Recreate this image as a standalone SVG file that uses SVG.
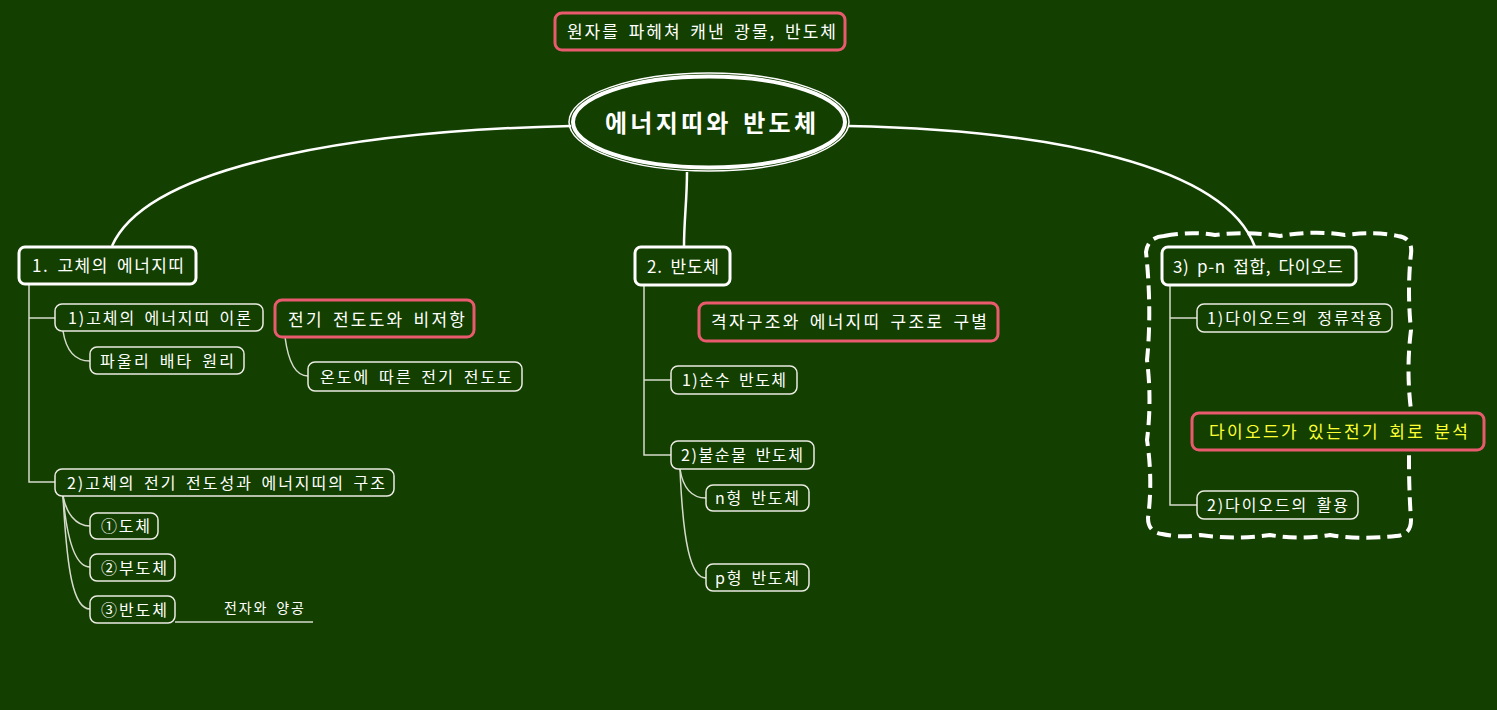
<svg xmlns="http://www.w3.org/2000/svg" width="1497" height="710" viewBox="0 0 1497 710">
<style>
text{font-family:"Noto Sans CJK KR","Malgun Gothic","Noto Sans",sans-serif;fill:#ffffff;word-spacing:3px;}
.t15{font-size:16px;}
.t17{font-size:17px;}
.main{fill:#133f00;stroke:#ffffff;stroke-width:3;}
.sub{fill:#133f00;stroke:#ecece4;stroke-width:1.5;}
.pink{fill:#133f00;stroke:#ea5a6e;stroke-width:3;}
.conn{fill:none;stroke:#d6dccc;stroke-width:1.5;}
.big{fill:none;stroke:#ffffff;stroke-width:2.5;}
</style>
<rect width="1497" height="710" fill="#133f00"/>
<g id="connectors">
<path class="big" d="M571,126 C380,130 150,160 112,246"/>
<path class="big" d="M848,126 C1050,130 1225,165 1255,247"/>
<path class="big" d="M687,172 C687,200 684,220 684,247"/>
<path class="conn" d="M29,284 V482 H55 M29,318 H55"/>
<path class="conn" d="M63,331 C66,350 75,361 90,361"/>
<path class="conn" d="M285,337 C288,360 295,376 308,376"/>
<path class="conn" d="M63,496 C66,512 75,526 90,526"/>
<path class="conn" d="M63,496 C67,540 75,567 90,567"/>
<path class="conn" d="M63,496 C67,570 73,609 90,609"/>
<path class="conn" d="M175,622 H313"/>
<path class="conn" d="M644,286 V455 H671 M644,380 H671"/>
<path class="conn" d="M680,469 C683,488 692,498 706,498"/>
<path class="conn" d="M680,469 C683,540 690,578 706,578"/>
<path class="conn" d="M1170,286 V505 H1197 M1170,318 H1197"/>
</g>
<g id="boundary">
<path d="M1164,236 Q1190,231 1215,235 Q1245,231 1280,236 Q1315,230 1345,235 Q1375,231 1398,236 Q1413,238 1411,254 Q1407,290 1411,330 Q1406,370 1411,410 Q1407,460 1411,520 Q1411,535 1396,536 Q1360,540 1330,535 Q1300,540 1270,535 Q1235,540 1200,535 Q1180,538 1162,534 Q1148,532 1148,518 Q1153,480 1147,440 Q1152,400 1147,360 Q1152,310 1146,252 Q1148,237 1164,236 Z" fill="none" stroke="#ffffff" stroke-width="4" stroke-dasharray="14 7"/>
</g>
<g id="title">
<rect class="pink" x="555" y="13" width="290" height="37" rx="7"/>
<text class="t17" x="567" y="38" textLength="269" lengthAdjust="spacing">원자를 파헤쳐 캐낸 광물, 반도체</text>
</g>
<g id="central">
<ellipse cx="709" cy="122" rx="140" ry="49" fill="none" stroke="#ffffff" stroke-width="1.5"/>
<ellipse cx="709" cy="122" rx="136" ry="45.5" fill="#133f00" stroke="#ffffff" stroke-width="4"/>
<text x="605" y="132" font-size="24" font-weight="bold" textLength="211" lengthAdjust="spacing">에너지띠와 반도체</text>
</g>
<g id="n1">
<rect class="main" x="19" y="247" width="177" height="37" rx="6"/>
<text class="t17" x="32" y="272" textLength="152" lengthAdjust="spacing">1. 고체의 에너지띠</text>
</g>
<g id="n1-1">
<rect class="sub" x="55" y="304" width="208" height="27" rx="7"/>
<text class="t15" x="68" y="324" textLength="183" lengthAdjust="spacing">1)고체의 에너지띠 이론</text>
</g>
<g id="n1-1-1">
<rect class="sub" x="90" y="347" width="154" height="27" rx="7"/>
<text class="t15" x="100" y="367" textLength="134" lengthAdjust="spacing">파울리 배타 원리</text>
</g>
<g id="n1-note">
<rect class="pink" x="275" y="300" width="199" height="37" rx="7"/>
<text class="t17" x="288" y="326" textLength="177" lengthAdjust="spacing">전기 전도도와 비저항</text>
</g>
<g id="n1-note-1">
<rect class="sub" x="308" y="362" width="214" height="29" rx="7"/>
<text class="t15" x="320" y="383" textLength="192" lengthAdjust="spacing">온도에 따른 전기 전도도</text>
</g>
<g id="n1-2">
<rect class="sub" x="55" y="469" width="339" height="27" rx="7"/>
<text class="t15" x="67" y="489" textLength="318" lengthAdjust="spacing">2)고체의 전기 전도성과 에너지띠의 구조</text>
</g>
<g id="n1-2-1">
<rect class="sub" x="90" y="513" width="68" height="26" rx="7"/>
<text class="t15" x="101" y="532" textLength="49" lengthAdjust="spacing">①도체</text>
</g>
<g id="n1-2-2">
<rect class="sub" x="90" y="554" width="85" height="27" rx="7"/>
<text class="t15" x="101" y="574" textLength="66" lengthAdjust="spacing">②부도체</text>
</g>
<g id="n1-2-3">
<rect class="sub" x="90" y="596" width="85" height="27" rx="7"/>
<text class="t15" x="101" y="616" textLength="66" lengthAdjust="spacing">③반도체</text>
</g>
<g id="n1-2-3-label">
<text x="224" y="613" font-size="14" textLength="80" lengthAdjust="spacing">전자와 양공</text>
</g>
<g id="n2">
<rect class="main" x="635" y="247" width="95" height="38" rx="6"/>
<text class="t17" x="647" y="273" textLength="72" lengthAdjust="spacing">2. 반도체</text>
</g>
<g id="n2-note">
<rect class="pink" x="699" y="303" width="299" height="38" rx="7"/>
<text class="t17" x="711" y="328" textLength="276" lengthAdjust="spacing">격자구조와 에너지띠 구조로 구별</text>
</g>
<g id="n2-1">
<rect class="sub" x="671" y="366" width="126" height="28" rx="7"/>
<text class="t15" x="682" y="386" textLength="104" lengthAdjust="spacing">1)순수 반도체</text>
</g>
<g id="n2-2">
<rect class="sub" x="671" y="441" width="143" height="28" rx="7"/>
<text class="t15" x="681" y="461" textLength="122" lengthAdjust="spacing">2)불순물 반도체</text>
</g>
<g id="n2-2-1">
<rect class="sub" x="706" y="485" width="103" height="26" rx="7"/>
<text class="t15" x="715" y="504" textLength="84" lengthAdjust="spacing">n형 반도체</text>
</g>
<g id="n2-2-2">
<rect class="sub" x="706" y="564" width="103" height="27" rx="7"/>
<text class="t15" x="715" y="584" textLength="84" lengthAdjust="spacing">p형 반도체</text>
</g>
<g id="n3">
<rect class="main" x="1162" y="247" width="194" height="38" rx="6"/>
<text class="t17" x="1173" y="273" textLength="170" lengthAdjust="spacing">3) p-n 접합, 다이오드</text>
</g>
<g id="n3-1">
<rect class="sub" x="1197" y="304" width="195" height="28" rx="7"/>
<text class="t15" x="1207" y="324" textLength="175" lengthAdjust="spacing">1)다이오드의 정류작용</text>
</g>
<g id="n3-note">
<rect class="pink" x="1192" y="413" width="292" height="37" rx="7"/>
<text x="1209" y="438" font-size="17" style="fill:#ffff33" textLength="259" lengthAdjust="spacing">다이오드가 있는전기 회로 분석</text>
</g>
<g id="n3-2">
<rect class="sub" x="1197" y="491" width="161" height="28" rx="7"/>
<text class="t15" x="1207" y="511" textLength="141" lengthAdjust="spacing">2)다이오드의 활용</text>
</g>
</svg>
